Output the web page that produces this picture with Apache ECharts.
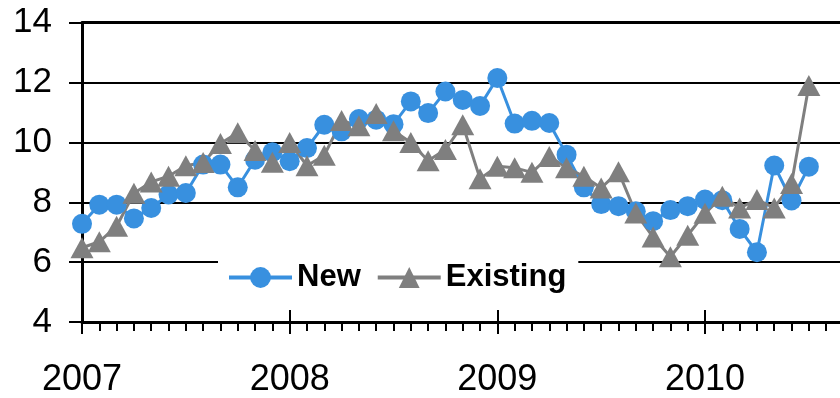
<!DOCTYPE html>
<html>
<head>
<meta charset="utf-8">
<script src="https://cdn.jsdelivr.net/npm/echarts@6/dist/echarts.min.js"></script>
<style>
  html, body { margin: 0; padding: 0; background: #fff; }
  #chart { width: 840px; height: 398px; }
</style>
</head>
<body>
<div id="chart"></div>
<script>
// Monthly values, January 2007 through July 2010
const newSales = [
  7.28, 7.92, 7.92, 7.46, 7.81, 8.26, 8.31, 9.26, 9.26, 8.50, 9.42, 9.67,
  9.37, 9.81, 10.59, 10.37, 10.78, 10.76, 10.61, 11.37, 10.98, 11.70, 11.42, 11.22,
  12.15, 10.63, 10.72, 10.65, 9.59, 8.50, 7.94, 7.87, 7.70, 7.37, 7.74, 7.87,
  8.09, 8.07, 7.11, 6.33, 9.23, 8.06, 9.19
];
const existingSales = [
  6.48, 6.68, 7.20, 8.30, 8.68, 8.87, 9.22, 9.33, 9.96, 10.32, 9.73, 9.34,
  10.00, 9.22, 9.57, 10.73, 10.56, 10.97, 10.39, 10.00, 9.39, 9.76, 10.59, 8.79,
  9.20, 9.15, 9.00, 9.53, 9.15, 8.87, 8.48, 9.02, 7.64, 6.84, 6.18, 6.90,
  7.63, 8.20, 7.81, 8.09, 7.81, 8.63, 11.90
];
const yearLabels = ['2007', '2008', '2009', '2010'];
const seriesNames = ['New', 'Existing'];

const FONT = '"Liberation Sans", Arial, sans-serif';
const monthTicks = Array.from({ length: newSales.length + 1 }, (_, i) => i);
const yearTicks = yearLabels.map((_, i) => i * 12);
const xMax = 43.8;

const baseX = {
  type: 'value', min: 0, max: xMax, position: 'bottom',
  splitLine: { show: false }
};

const chart = echarts.init(document.getElementById('chart'));
chart.setOption({
  animation: false,
  backgroundColor: '#fff',
  grid: { left: 82, right: 0, top: 22.7, bottom: 75.3 },
  legend: {
    data: seriesNames.map(name => ({ name, lineStyle: { width: 4 } })),
    left: 218, top: 254,
    backgroundColor: '#fff',
    padding: [8, 12, 8, 9],
    itemWidth: 63, itemHeight: 26, itemGap: 15,
    lineStyle: { width: 4 },
    textStyle: { fontFamily: FONT, fontSize: 31, fontWeight: 'bold', color: '#000' }
  },
  xAxis: [
    Object.assign({}, baseX, {
      axisLine: { show: true, onZero: false, lineStyle: { color: '#000', width: 3 } },
      axisTick: { show: true, length: 9, customValues: monthTicks, lineStyle: { color: '#000', width: 2 } },
      axisLabel: { show: false }
    }),
    Object.assign({}, baseX, {
      axisLine: { show: false },
      axisTick: { show: true, inside: true, length: 12, customValues: yearTicks, lineStyle: { color: '#000', width: 2 } },
      axisLabel: { show: false }
    }),
    Object.assign({}, baseX, {
      axisLine: { show: false },
      axisTick: { show: true, length: 12, customValues: yearTicks, lineStyle: { color: '#000', width: 2 } },
      axisLabel: {
        show: true, margin: 40, customValues: yearTicks,
        formatter: v => yearLabels[Math.round(v / 12)],
        fontFamily: FONT, fontSize: 36, color: '#000'
      }
    }),
    Object.assign({}, baseX, {
      position: 'top',
      axisLine: { show: true, onZero: false, lineStyle: { color: '#000', width: 3 } },
      axisTick: { show: false },
      axisLabel: { show: false }
    })
  ],
  yAxis: {
    type: 'value', min: 4, max: 14, interval: 2,
    axisLine: { show: true, lineStyle: { color: '#000', width: 3 } },
    axisTick: { show: true, length: 13, lineStyle: { color: '#000', width: 2 } },
    axisLabel: { margin: 30, fontFamily: FONT, fontSize: 35, color: '#000' },
    splitLine: { show: true, lineStyle: { color: '#000', width: 1.8 } }
  },
  series: [
    {
      name: seriesNames[0], type: 'line', xAxisIndex: 0,
      data: newSales.map((v, i) => [i, v]),
      symbol: 'circle', symbolSize: 20,
      lineStyle: { color: '#3890DF', width: 3 },
      itemStyle: { color: '#3890DF' }
    },
    {
      name: seriesNames[1], type: 'line', xAxisIndex: 0,
      data: existingSales.map((v, i) => [i, v]),
      symbol: 'triangle', symbolSize: [23, 21],
      lineStyle: { color: '#7F7F7F', width: 3 },
      itemStyle: { color: '#7F7F7F' }
    }
  ]
});
</script>
</body>
</html>
